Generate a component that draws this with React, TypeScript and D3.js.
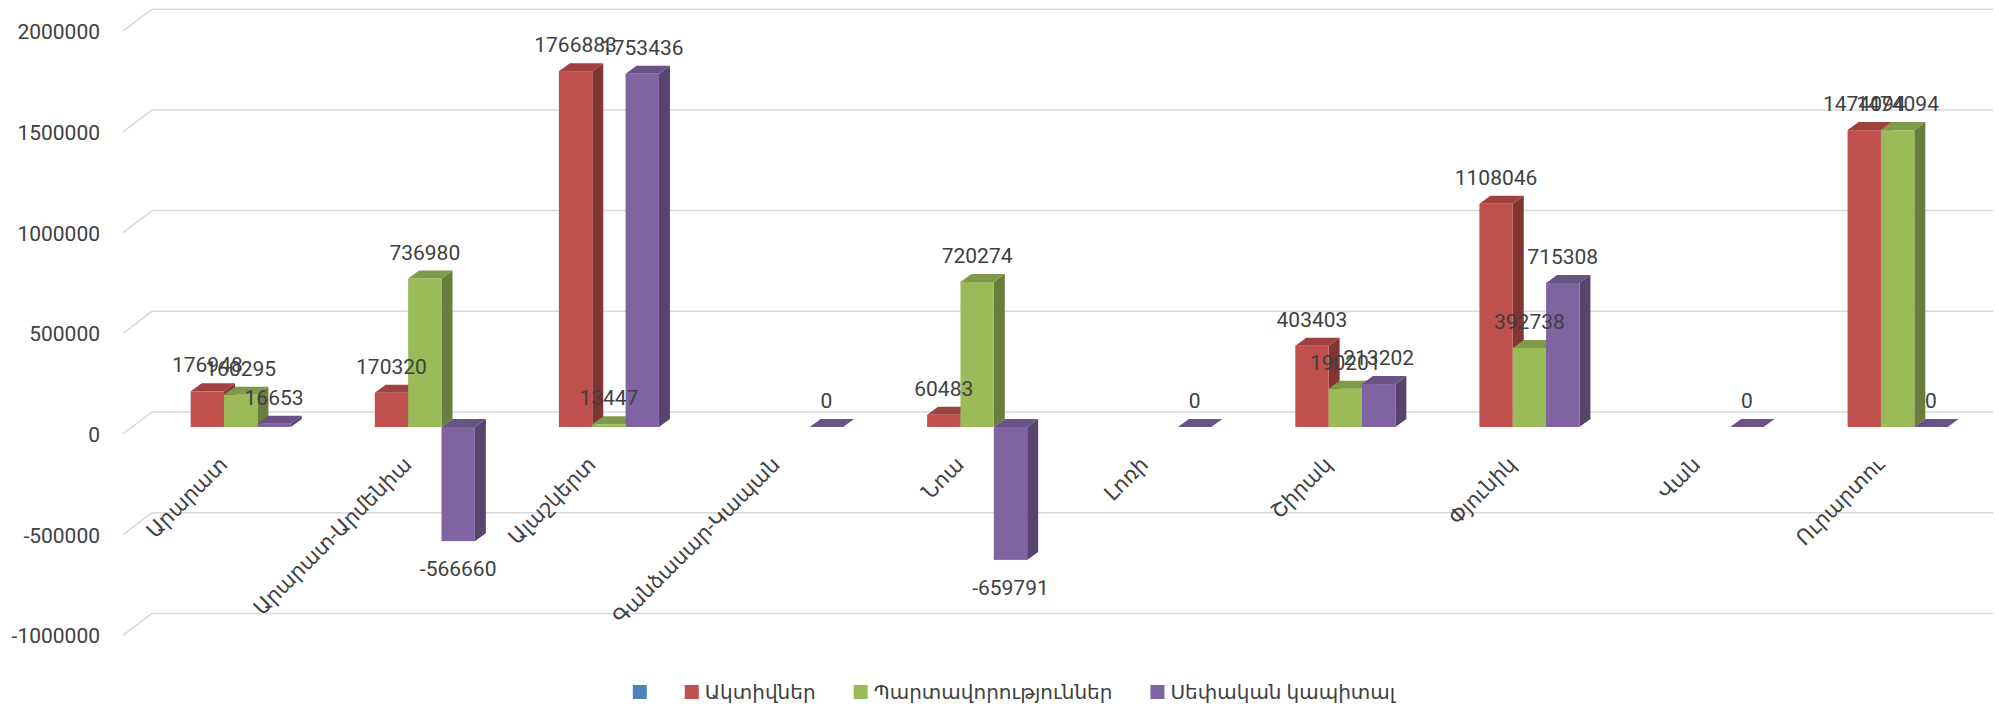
import React, { useRef, useEffect } from 'react';
import * as d3 from 'd3';

const categories = ['Արարատ', 'Արարատ-Արմենիա', 'Ալաշկերտ', 'Գանձասար-Կապան', 'Նոա', 'Լոռի', 'Շիրակ', 'Փյունիկ', 'Վան', 'Ուրարտու'];
const seriesNames = ['', 'Ակտիվներ', 'Պարտավորություններ', 'Սեփական կապիտալ'];
const seriesColors = ['#4F81BD', '#C0504D', '#9BBB59', '#8064A2'];

// first series is empty in the source chart (legend entry only)
const blank: (number | null)[] = [null, null, null, null, null, null, null, null, null, null];
const assets: (number | null)[] = [176948, 170320, 1766883, null, 60483, null, 403403, 1108046, null, 1474094];
const liabilities: (number | null)[] = [160295, 736980, 13447, null, 720274, null, 190201, 392738, null, 1474094];
const equity: (number | null)[] = [16653, -566660, 1753436, 0, -659791, 0, 213202, 715308, 0, 0];
const yTicks = [-1000000, -500000, 0, 500000, 1000000, 1500000, 2000000];

const W = 1999;
const H = 707;
const FONT = "Roboto, 'DejaVu Sans', sans-serif";

const App = () => {
  const svgRef = useRef<SVGSVGElement>(null);

  useEffect(() => {
    document.body.style.margin = '0';
    const svg = d3.select(svgRef.current);
    svg.selectAll('*').remove();

    const values = [blank, assets, liabilities, equity];

    // back wall of the box
    const x0 = d3.scaleBand().domain(categories).range([152, 1993]);
    const x1 = d3.scaleBand().domain(seriesNames.map((_, i) => String(i))).range([0, x0.bandwidth()]).paddingOuter(0.76);
    const y = d3.scaleLinear().domain([-1000000, 2000000]).range([613.4, 9.2]);

    // oblique offsets: wall -> front of axis, wall -> bar front, bar depth
    const axisDx = -29, axisDy = 22;
    const barDx = -20, barDy = 15;
    const depthX = 11, depthY = 8;

    const grid = svg.append('g');
    yTicks.forEach((t) => {
      grid.append('line')
        .attr('x1', 152).attr('x2', 1993)
        .attr('y1', y(t)).attr('y2', y(t))
        .attr('stroke', '#D9D9D9').attr('stroke-width', 1.5);
      grid.append('line')
        .attr('x1', 152 + axisDx).attr('x2', 152)
        .attr('y1', y(t) + axisDy).attr('y2', y(t))
        .attr('stroke', '#D9D9D9').attr('stroke-width', 1.5);
      grid.append('text')
        .attr('x', 100).attr('y', y(t) + axisDy + 1)
        .attr('text-anchor', 'end')
        .attr('dominant-baseline', 'central')
        .attr('font-size', 21)
        .attr('fill', '#404040')
        .text(t);
    });

    // category labels, slanted under each group
    const catG = svg.append('g');
    categories.forEach((c) => {
      const cx = (x0(c) as number) + x0.bandwidth() / 2 + barDx;
      catG.append('text')
        .attr('transform', `translate(${cx - 6},${455}) rotate(-45)`)
        .attr('text-anchor', 'end')
        .attr('dominant-baseline', 'hanging')
        .attr('font-size', 21)
        .attr('fill', '#404040')
        .text(c);
    });

    const zero = y(0) + barDy;
    const bars = svg.append('g');
    const labels: { x: number; y: number; v: number }[] = [];

    values.forEach((vals, si) => {
      const base = d3.color(seriesColors[si]) as d3.RGBColor;
      const topC = base.darker(0.55).formatHex();
      const sideC = base.darker(1.1).formatHex();
      vals.forEach((v, ci) => {
        if (v === null) return;
        const bx = (x0(categories[ci]) as number) + (x1(String(si)) as number) + barDx;
        const w = x1.bandwidth();
        const yv = y(v) + barDy;
        const top = Math.min(yv, zero);
        const bottom = Math.max(yv, zero);
        const g = bars.append('g');
        if (bottom - top > 0) {
          g.append('polygon')
            .attr('points', [[bx + w, top], [bx + w + depthX, top - depthY], [bx + w + depthX, bottom - depthY], [bx + w, bottom]].join(' '))
            .attr('fill', sideC);
          g.append('rect')
            .attr('x', bx).attr('y', top)
            .attr('width', w).attr('height', bottom - top)
            .attr('fill', seriesColors[si]);
        }
        g.append('polygon')
          .attr('points', [[bx, top], [bx + depthX, top - depthY], [bx + w + depthX, top - depthY], [bx + w, top]].join(' '))
          .attr('fill', topC);
        labels.push({ x: bx + w / 2, y: v < 0 ? yv + 28 : yv - 26, v });
      });
    });

    const lab = svg.append('g');
    labels.forEach((l) => {
      lab.append('text')
        .attr('x', l.x).attr('y', l.y)
        .attr('text-anchor', 'middle')
        .attr('dominant-baseline', 'central')
        .attr('font-size', 21)
        .attr('fill', '#404040')
        .text(l.v);
    });

    // legend, laid out from measured text widths
    const leg = svg.append('g');
    const items = seriesNames.map((name, i) => {
      const g = leg.append('g');
      g.append('rect').attr('x', 0).attr('y', -7).attr('width', 14).attr('height', 14).attr('fill', seriesColors[i]);
      const t = g.append('text')
        .attr('x', 20).attr('y', 0)
        .attr('dominant-baseline', 'central')
        .attr('font-size', 20)
        .attr('fill', '#404040')
        .text(name);
      const tw = name ? (t.node() as SVGTextElement).getComputedTextLength() : 0;
      return { g, width: name ? 20 + tw : 14 };
    });
    const gap = 38;
    const total = d3.sum(items, (d) => d.width) + gap * (items.length - 1);
    let lx = 1014 - total / 2;
    items.forEach((it) => {
      it.g.attr('transform', `translate(${lx},692)`);
      lx += it.width + gap;
    });
  }, []);

  return (
    <svg ref={svgRef} width={W} height={H} style={{ display: 'block', background: '#fff', fontFamily: FONT }} />
  );
};

export default App;
